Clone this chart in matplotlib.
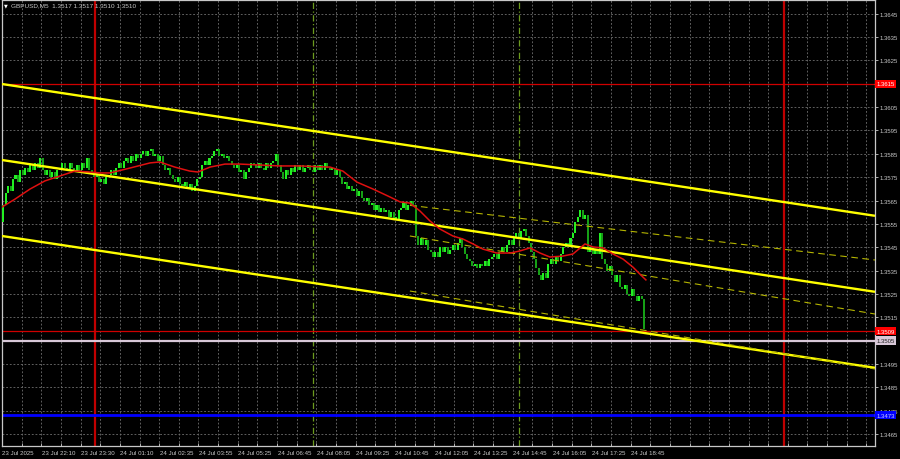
import matplotlib
matplotlib.use('Agg')
import matplotlib.pyplot as plt
import matplotlib.transforms as mtrans

plt.rcParams['font.family'] = ['Liberation Sans', 'DejaVu Sans']

# ---------------- data ----------------
title_text = "GBPUSD,M5  1.3517 1.3517 1.3510 1.3510"

first_open = 1.3556
closes = [
    1.3563, 1.3568, 1.3571, 1.3569, 1.3574, 1.3576, 1.3573, 1.3578, 1.3576, 1.3579,
    1.3577, 1.3580, 1.3578, 1.3581, 1.3579, 1.3583, 1.3578, 1.3576, 1.3578, 1.3575,
    1.3577, 1.3574, 1.3578, 1.3579, 1.3581, 1.3579, 1.3578, 1.3581, 1.3579, 1.3577,
    1.3580, 1.3578, 1.3581, 1.3579, 1.3583, 1.3578, 1.3577, 1.3575, 1.3576, 1.3573,
    1.3574, 1.3572, 1.3575, 1.3576, 1.3578, 1.3576, 1.3579, 1.3581, 1.3579, 1.3582,
    1.3583, 1.3581, 1.3584, 1.3582, 1.3585, 1.3583, 1.3585, 1.3586, 1.3584, 1.3586,
    1.3587, 1.3584, 1.3585, 1.3582, 1.3584, 1.3580, 1.3578, 1.3579, 1.3576, 1.3574,
    1.3573, 1.3575, 1.3572, 1.3571, 1.3573, 1.3570, 1.3572, 1.3569, 1.3571, 1.3574,
    1.3575, 1.3580, 1.3582, 1.3580, 1.3583, 1.3584, 1.3586, 1.3587, 1.3584, 1.3585,
    1.3583, 1.3584, 1.3582, 1.3580, 1.3579, 1.3580, 1.3577, 1.3578, 1.3574, 1.3577,
    1.3579, 1.3581, 1.3580, 1.3579, 1.3581, 1.3579, 1.3578, 1.3581, 1.3579, 1.3581,
    1.3582, 1.3585, 1.3580, 1.3577, 1.3574, 1.3578, 1.3576, 1.3579, 1.3577, 1.3580,
    1.3578, 1.3580, 1.3577, 1.3579, 1.3580, 1.3578, 1.3577, 1.3580, 1.3578, 1.3580,
    1.3578, 1.3581, 1.3579, 1.3578, 1.3579, 1.3576, 1.3578, 1.3575, 1.3572, 1.3573,
    1.3570, 1.3571, 1.3569, 1.3570, 1.3567, 1.3569, 1.3566, 1.3565, 1.3566, 1.3563,
    1.3564, 1.3561, 1.3563, 1.3560, 1.3562, 1.3560, 1.3561, 1.3558, 1.3560, 1.3557,
    1.3557, 1.3561, 1.3562, 1.3564, 1.3561, 1.3563, 1.3565, 1.3563, 1.3550, 1.3546,
    1.3549, 1.3546, 1.3548, 1.3544, 1.3543, 1.3541, 1.3543, 1.3541, 1.3545, 1.3543,
    1.3545, 1.3542, 1.3544, 1.3546, 1.3544, 1.3547, 1.3549, 1.3545, 1.3542, 1.3540,
    1.3539, 1.3537, 1.3538, 1.3536, 1.3538, 1.3537, 1.3539, 1.3537, 1.3540, 1.3541,
    1.3542, 1.3540, 1.3543, 1.3545, 1.3543, 1.3546, 1.3548, 1.3546, 1.3549, 1.3551,
    1.3549, 1.3552, 1.3553, 1.3550, 1.3547, 1.3543, 1.3540, 1.3536, 1.3533, 1.3531,
    1.3534, 1.3532, 1.3538, 1.3540, 1.3538, 1.3541, 1.3539, 1.3542, 1.3545, 1.3547,
    1.3545, 1.3549, 1.3551, 1.3556, 1.3558, 1.3561, 1.3557, 1.3559, 1.3543, 1.3545,
    1.3542, 1.3544, 1.3542, 1.3551, 1.3540, 1.3538, 1.3535, 1.3537, 1.3533, 1.3530,
    1.3533, 1.3528, 1.3527, 1.3529, 1.3525, 1.3524, 1.3527, 1.3524, 1.3522, 1.3524,
    1.3523, 1.3510,
]

ma_x = [0, 5.3, 11.4, 17.5, 23.6, 29.7, 35.8, 39.9, 44.0, 52.1, 60.3, 64.3, 70.4,
        76.5, 79.8, 84.7, 90.8, 96.9, 105.0, 113.2, 121.3, 133.6, 138.8, 144.5,
        151.1, 158.0, 162.1, 166.1, 170.2, 174.3, 178.3, 183.6, 187.7, 191.8,
        195.8, 201.5, 207.0, 210.9, 215.0, 219.1, 223.1, 228.4, 232.5, 237.4,
        240.7, 244.7, 248.8, 252.9, 256.9, 261.0, 262.2]
ma_vals = [1.35622, 1.35656, 1.35699, 1.35734, 1.35755, 1.35776, 1.35772, 1.35768,
           1.35768, 1.35789, 1.35811, 1.35815, 1.35793, 1.35776, 1.35772, 1.35793,
           1.35806, 1.35806, 1.35802, 1.35798, 1.35798, 1.35793, 1.35776, 1.35729,
           1.35699, 1.35665, 1.35644, 1.35639, 1.35605, 1.35562, 1.35528, 1.35498,
           1.35485, 1.35464, 1.35442, 1.35425, 1.35425, 1.35434, 1.35447, 1.35425,
           1.35408, 1.35412, 1.35421, 1.35464, 1.35451, 1.35447, 1.35421, 1.35399,
           1.35365, 1.35322, 1.35310]

chan_x = [0, 355.5]
chan_top = [1.361489, 1.355845]
chan_mid = [1.358234, 1.352590]
chan_bot = [1.354980, 1.349335]

dash_x = [166.1, 355.5]
dash_top = [1.356292, 1.353952]
dash_mid = [1.354980, 1.351639]
dash_bot = [1.352624, 1.349284]

red_levels = [1.3615, 1.3509]
thistle_level = 1.3505
blue_level = 1.3473
red_vlines = [37.9, 318.4]
green_vlines = [126.6, 210.5]

price_ticks = [1.3465, 1.3475, 1.3485, 1.3495, 1.3505, 1.3515, 1.3525, 1.3535,
               1.3545, 1.3555, 1.3565, 1.3575, 1.3585, 1.3595, 1.3605, 1.3615,
               1.3625, 1.3635, 1.3645]
time_labels = ["23 Jul 2025", "23 Jul 22:10", "23 Jul 23:30", "24 Jul 01:10",
               "24 Jul 02:35", "24 Jul 03:55", "24 Jul 05:25", "24 Jul 06:45",
               "24 Jul 08:05", "24 Jul 09:25", "24 Jul 10:45", "24 Jul 12:05",
               "24 Jul 13:25", "24 Jul 14:45", "24 Jul 16:05", "24 Jul 17:25",
               "24 Jul 18:45"]
bars_per_label = 16
bars_per_grid = 8

# ---------------- figure ----------------
W, H = 900, 460
fig = plt.figure(figsize=(W / 100, H / 100), dpi=100, facecolor='black')
ax = fig.add_axes([2 / W, 13 / H, 873 / W, 446 / H], facecolor='black')
ax.set_xlim(0, 355.5)
ax.set_ylim(1.345986, 1.365087)

txt_col = '#C8C8C8'
grid_col = '#6E6E6E'

# grid
for p in price_ticks:
    ax.axhline(p, color=grid_col, lw=0.6, ls=(0, (2.2, 2.2)), zorder=1)
for gx in range(0, 356, bars_per_grid):
    ax.axvline(gx, color=grid_col, lw=0.6, ls=(0, (2.2, 2.2)), zorder=1)

# vertical lines
for vx in green_vlines:
    ax.axvline(vx, color='#6B9A1E', lw=0.9, ls=(0, (5, 2, 1, 2)), zorder=2)
for vx in red_vlines:
    ax.axvline(vx, color='#C00000', lw=1.6, zorder=2)

# horizontal levels
ax.axhline(red_levels[0], color='#D00000', lw=0.9, zorder=2)
ax.axhline(blue_level, color='#0000FF', lw=2.0, zorder=2)
ax.axhline(thistle_level, color='#D8C8D8', lw=1.6, zorder=2)
ax.axhline(red_levels[1], color='#D00000', lw=0.9, zorder=2)

# candles
opens = [first_open] + closes[:-1]
xs = [i + 0.5 for i in range(len(closes))]
bottoms = [min(o, c) for o, c in zip(opens, closes)]
heights = [max(abs(c - o), 0.00008) for o, c in zip(opens, closes)]
cols = ['#22F022' if c >= o else '#16A016' for o, c in zip(opens, closes)]
ax.bar(xs, heights, bottom=bottoms, width=0.82, color=cols, linewidth=0, zorder=3)

# moving average
ax.plot(ma_x, ma_vals, color='#E01010', lw=1.1, zorder=5)

# regression channels
for ys in (chan_top, chan_mid, chan_bot):
    ax.plot(chan_x, ys, color='#FFFF00', lw=1.7, zorder=4, solid_capstyle='butt')
for ys in (dash_top, dash_mid, dash_bot):
    ax.plot(dash_x, ys, color='#B4B400', lw=0.8, ls=(0, (6, 4)), zorder=4)

# axes styling
for s in ax.spines.values():
    s.set_color('#C8C8C8')
    s.set_linewidth(0.9)
ax.yaxis.tick_right()
covered = {f"{red_levels[0]:.4f}", f"{thistle_level:.4f}"}
ax.set_yticks(price_ticks)
ax.set_yticklabels([("" if f"{p:.4f}" in covered else f"{p:.4f}") for p in price_ticks])
ax.tick_params(axis='y', colors=txt_col, labelsize=4.3, length=2, width=0.6, pad=1.5)
ax.set_xticks(list(range(0, 356, bars_per_grid)))
ax.set_xticklabels([])
ax.tick_params(axis='x', colors='#C8C8C8', length=2.5, width=0.6, direction='in')

trans_x = mtrans.blended_transform_factory(ax.transData, ax.transAxes)
for k, lab in enumerate(time_labels):
    ax.text(k * bars_per_label + 0.2, -0.009, lab, transform=trans_x, ha='left', va='top',
            fontsize=4.4, color=txt_col, clip_on=False)

trans_y = mtrans.blended_transform_factory(ax.transAxes, ax.transData)
def level_label(price, text, fc, tc):
    ax.text(1.0015, price, text, transform=trans_y, ha='left', va='center',
            fontsize=4.3, color=tc, clip_on=False, zorder=10,
            bbox=dict(boxstyle='square,pad=0.28', fc=fc, ec='none'))

level_label(red_levels[0], "1.3615", '#FF0000', '#FFFFFF')
level_label(red_levels[1], "1.3509", '#FF0000', '#FFFFFF')
level_label(thistle_level, "1.3505", '#D8C8D8', '#202020')
level_label(blue_level, "1.3473", '#0000FF', '#C8C8FF')

# title
fig.text(4 / W, 1 - 6 / H, "\u25BC", fontsize=3.5, color='white', va='center', ha='left',
         family=['DejaVu Sans'])
fig.text(11 / W, 1 - 6 / H, title_text, fontsize=4.6, color=txt_col, va='center', ha='left')

fig.savefig('out.png', dpi=100, facecolor='black')
